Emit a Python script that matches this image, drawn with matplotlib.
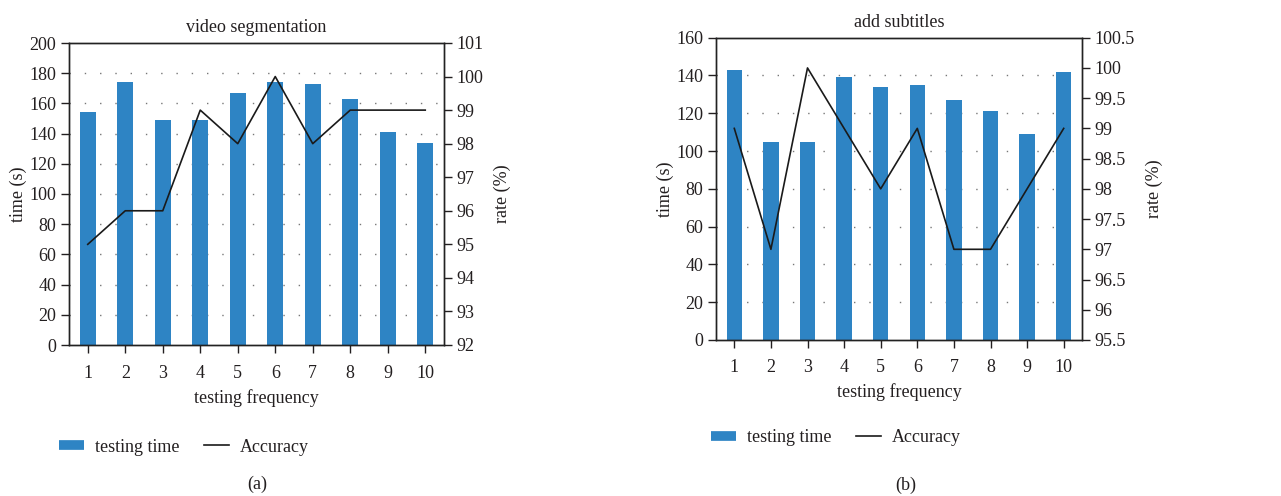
import matplotlib
matplotlib.use("Agg")
import matplotlib.pyplot as plt
from matplotlib.lines import Line2D
from matplotlib.ticker import FuncFormatter

plt.rcParams['font.family'] = ['Liberation Serif', 'DejaVu Serif']

# ---- data ----
freq = [1, 2, 3, 4, 5, 6, 7, 8, 9, 10]

seg_time = [154, 174, 149, 149, 167, 174, 173, 163, 141, 134]
seg_acc = [95, 96, 96, 99, 98, 100, 98, 99, 99, 99]

sub_time = [143, 105, 105, 139, 134, 135, 127, 121, 109, 142]
sub_acc = [99, 97, 100, 99, 98, 99, 97, 97, 98, 99]

titles = ["video segmentation", "add subtitles"]
panel_labels = ["(a)", "(b)"]

BLUE = "#2E84C4"
TXT = "#231F20"
FS = 13

fig = plt.figure(figsize=(12.81, 4.96), dpi=100)

def fmt(v, pos):
    s = f"{v:.1f}"
    if s.endswith(".0"):
        s = s[:-2]
    return s

def panel(rect, times, acc, title, ylim, yticks, rlim, rticks, xpad, rpad):
    ax = fig.add_axes(rect)
    ax.bar(freq, times, width=0.42, color=BLUE, zorder=2)
    ax.set_xlim(0.5, 10.5)
    ax.set_ylim(*ylim)
    ax.set_yticks(yticks)
    ax.set_xticks(freq)
    for y in yticks[1:-1]:
        ax.axhline(y, color="#777777", lw=1.0, ls=(0, (1, 10)), zorder=1)
    ax.set_ylabel("time (s)", fontsize=FS, color=TXT, labelpad=2)
    ax.set_xlabel("testing frequency", fontsize=FS, color=TXT, labelpad=5)
    ax.set_title(title, fontsize=FS, color=TXT, pad=8)
    ax.tick_params(direction="out", length=6, width=1, labelsize=FS, colors=TXT, pad=3)
    ax.tick_params(axis="x", pad=xpad)
    ax2 = ax.twinx()
    ax2.plot(freq, acc, color="#1a1a1a", lw=1.2, zorder=3)
    ax2.set_ylim(*rlim)
    ax2.set_yticks(rticks)
    ax2.yaxis.set_major_formatter(FuncFormatter(fmt))
    ax2.set_ylabel("rate (%)", fontsize=FS, color=TXT, labelpad=rpad)
    ax2.tick_params(direction="out", length=6, width=1, labelsize=FS, colors=TXT, pad=3)
    for a in (ax, ax2):
        for s in a.spines.values():
            s.set_color("#222222")
            s.set_linewidth(1.0)
    return ax

panel([69/1281, 1-345/496, 375/1281, 302/496], seg_time, seg_acc, titles[0],
      (0, 200), list(range(0, 201, 20)), (92, 101), list(range(92, 102)), 8.5, 7)

panel([716/1281, 1-340/496, 366/1281, 302.3/496], sub_time, sub_acc, titles[1],
      (0, 160), list(range(0, 161, 20)), (95.5, 100.5),
      [95.5 + 0.5*i for i in range(11)], 7.5, 8)

handles = [Line2D([0], [0], color=BLUE, lw=7, solid_capstyle="butt"),
           Line2D([0], [0], color="#1a1a1a", lw=1.2)]
labels = ["testing time", "Accuracy"]

for cx, cy in [(184/1281, 1-447/496), (836/1281, 1-438/496)]:
    fig.legend(handles, labels, loc="center", bbox_to_anchor=(cx, cy), ncol=2,
               frameon=False, fontsize=FS, handlelength=1.35, handletextpad=0.6,
               columnspacing=1.4, labelcolor=TXT)

fig.text(257/1281, 1-484/496, panel_labels[0], ha="center", va="center", fontsize=FS, color=TXT)
fig.text(906/1281, 1-485/496, panel_labels[1], ha="center", va="center", fontsize=FS, color=TXT)

fig.savefig("out.png", dpi=100)
